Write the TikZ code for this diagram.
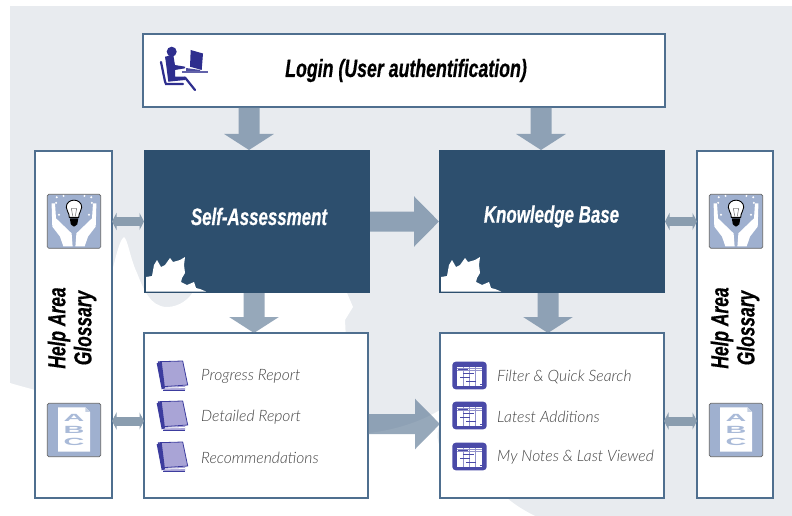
\documentclass[tikz,border=0pt]{standalone}
\usepackage{fontspec}
\setmainfont{Liberation Sans}
\newfontfamily\headfont[FakeStretch=0.71,FakeBold=0.5]{Liberation Sans}
\newfontfamily\listfont{Lato Light}
\usetikzlibrary{arrows.meta}
\definecolor{bggray}{HTML}{E8EBEF}
\definecolor{edgeblue}{HTML}{4F6F8F}
\definecolor{darkbox}{HTML}{2D4F6E}
\definecolor{arrowcol}{HTML}{5F7A96}
\definecolor{dblarrow}{HTML}{8A9DAF}
\definecolor{iconbg}{HTML}{9FB0CF}
\definecolor{abcletter}{HTML}{A9BAD8}
\definecolor{navy}{HTML}{2E2E8E}
\definecolor{bookfill}{HTML}{A9A4D6}
\definecolor{bookedge}{HTML}{3C3C9E}
\definecolor{ganttbg}{HTML}{4A4AA8}
\definecolor{listgray}{HTML}{444444}
\tikzset{
  whitebox/.style={draw=edgeblue,fill=white,line width=1.2pt,inner sep=0pt,outer sep=0pt},
  darkpanel/.style={fill=darkbox,inner sep=0pt,outer sep=0pt},
  headtext/.style={font=\headfont\bfseries\itshape\fontsize{25}{28}\selectfont,inner sep=0pt},
  panelhead/.style={font=\headfont\bfseries\itshape\fontsize{23.8}{28}\selectfont,inner sep=0pt,text=white},
  sidetext/.style={font=\headfont\bfseries\itshape\fontsize{24.5}{26}\selectfont,inner sep=0pt,align=center,rotate=90},
  listtext/.style={font=\listfont\itshape\fontsize{15.7}{18}\selectfont,text=listgray,inner sep=0pt,anchor=west},
  bigarrow/.style={draw=arrowcol,line width=#1},
  downhead/.style={-{Triangle[length=16pt,width=49pt,fill=arrowcol]}},
  righthead/.style={-{Triangle[length=25pt,width=49pt,fill=arrowcol]}},
  smallarrow/.style={draw=dblarrow,line width=9pt,{Triangle[length=4.5pt,width=17pt,fill=dblarrow]}-{Triangle[length=4.5pt,width=17pt,fill=dblarrow]}},
  leafpic/.pic={
    \fill[white] (146,291.5) -- (146,277) -- (152,276) -- (154,265) -- (157,260) -- (161,267) -- (165,265)
      -- (170,258) -- (173,262) -- (180,260) -- (185,257) -- (184,265) -- (185,273) -- (182,278) -- (181,282)
      -- (187,285) -- (194,282) -- (196,288) -- (200,289) -- (206,291.5) -- cycle;
  },
  bulbicon/.pic={
    \fill[draw=gray!80!black,fill=iconbg,rounded corners=1.5pt,line width=.7pt] (0,0) rectangle (53.4,54);
    \fill[white] (4.3,9) -- (7.7,9) -- (8.7,24) -- (24.3,39) -- (25.3,52) -- (16,52) -- (12.7,42.3) -- (5,32.3) -- cycle;
    \fill[white] (49.1,9) -- (45.7,9) -- (44.7,24) -- (29.1,39) -- (28.1,52) -- (37.4,52) -- (40.7,42.3) -- (48.4,32.3) -- cycle;
    \foreach \a/\r in {200/19,215/21,232/17,250/20,270/19,290/20,308/17,325/21,340/19,160/16,20/16}
      \fill[white] ({26.7+\r*cos(\a)},{15+\r*sin(\a)}) circle (1.1);
    \fill[white,draw=black,line width=.9pt] (22,23) .. controls (22,18) and (19,17) .. (19,13) .. controls (19,3.5) and (34.4,3.5) .. (34.4,13) .. controls (34.4,17) and (31.4,18) .. (31.4,23) -- cycle;
    \fill[black] (22.5,24) -- (31,24) -- (30,30) -- (27.5,32) -- (26,32) -- (23.5,30) -- cycle;
    \draw[gray,line width=.6pt] (24,14) -- (25.5,22) (29.4,14) -- (28,22) (24,14) -- (29.4,14);
  },
  abcicon/.pic={
    \fill[draw=gray!80!black,fill=iconbg,rounded corners=1.5pt,line width=.7pt] (0,0) rectangle (53.4,53.4);
    \fill[white] (10.7,4) -- (38,4) -- (42.7,8.5) -- (42.7,48.4) -- (10.7,48.4) -- cycle;
    \fill[iconbg!60] (38,4) -- (42.7,8.5) -- (38,8.5) -- cycle;
    \node[font=\bfseries\fontsize{8}{8}\selectfont,text=abcletter,inner sep=0pt] (-a) at (26.7,15) {\scalebox{3.6}[1.3]{A}};
    \node[font=\bfseries\fontsize{8}{8}\selectfont,text=abcletter,inner sep=0pt] (-b) at (26.7,27) {\scalebox{3.6}[1.3]{B}};
    \node[font=\bfseries\fontsize{8}{8}\selectfont,text=abcletter,inner sep=0pt] (-c) at (26.7,39) {\scalebox{3.6}[1.3]{C}};
  },
  bookicon/.pic={
    \fill[bookfill] (6.3,25.7) -- (28,25) -- (28,29) -- (6.3,29) -- cycle;
    \draw[bookedge,line width=.6pt] (6.3,29) -- (28,29);
    \draw[white,line width=.8pt] (7,27) -- (28,26.5);
    \fill[bookfill,draw=bookedge,line width=.8pt,line join=round] (1.3,.7) -- (25.7,0) -- (30.7,24) -- (5.7,25.7) -- cycle;
    \fill[bookedge] (-.3,2.3) -- (4.7,.7) -- (8,27.3) -- (4.7,28.3) -- cycle;
  },
  ganttpic/.pic={
    \fill[ganttbg,rounded corners=3.5pt] (0,0) rectangle (34.4,27.6);
    \fill[white] (4.4,3.3) rectangle (30,24);
    \fill[ganttbg] (4.4,3.3) rectangle (30,5);
    \draw[ganttbg!60,line width=.5pt] (4.4,7) -- (30,7) (4.4,9) -- (30,9) (11,5) -- (11,24) (17,5) -- (17,24) (23,5) -- (23,24);
    \draw[ganttbg,line width=1pt] (6,8) -- (16,8) (11,12) -- (22,12) (8,16) -- (18,16) (14,20) -- (24,20);
    \fill[ganttbg] (28,22) rectangle (29.5,23.5);
  },
  personpic/.pic={
    \fill[navy] (171.7,51.7) circle (5);
    \fill[navy] (165,56.7) -- (173.3,55) -- (175,65) -- (185,66.7) -- (185,68.3) -- (175,70) -- (175,76.7) -- (185,76.7) -- (185,80) -- (168.3,81.7) -- (166,63.3) -- cycle;
    \draw[navy,line width=2.2pt,line cap=round] (161,62) -- (165,81.5) -- (166,84) -- (183,84);
    \draw[navy,line width=2.2pt,line cap=round] (185,77.5) -- (195,90);
    \fill[navy] (190.7,50) -- (203,53.5) -- (201.7,70) -- (190,66.7) -- cycle;
    \fill[navy!75] (181.7,71) rectangle (208,73.5);
    \fill[navy!85] (186,68) -- (200,70) -- (200,71) -- (186,71) -- cycle;
  }
}
\begin{document}
\begin{tikzpicture}[x=1pt,y=-1pt]
\useasboundingbox (0,0) rectangle (792,516);
% background
\fill[bggray] (10,6) rectangle (792,516);
\fill[white] (0,383) -- (10,383) .. controls (20,386) and (28,388) .. (35,390) -- (100,320)
  .. controls (112,275) and (118,240) .. (124,237)
  .. controls (128,240) and (130,258) .. (137,273)
  .. controls (143,288) and (150,307) .. (167,307)
  .. controls (178,307) and (190,300) .. (195,288)
  -- (347,288) -- (347,293) -- (353,307) -- (345,320) -- (346,340) -- (369,433)
  .. controls (395,430) and (420,422) .. (440,410)
  -- (442,420) .. controls (436,430) and (436,440) .. (442,452)
  -- (507,498) .. controls (515,505) and (525,511) .. (535,516)
  -- (0,516) -- cycle;
% boxes
\node[whitebox,minimum width=522pt,minimum height=73pt] (login) at (404,70.5) {};
\node[darkpanel,minimum width=226pt,minimum height=143pt] (sa) at (257,221.5) {};
\node[darkpanel,minimum width=226pt,minimum height=143pt] (kb) at (552,221.5) {};
\node[whitebox,minimum width=77pt,minimum height=347pt] (helpL) at (73.5,324.5) {};
\node[whitebox,minimum width=76pt,minimum height=347pt] (helpR) at (735,324.5) {};
\node[whitebox,minimum width=224pt,minimum height=165pt] (rep) at (256,415.5) {};
\node[whitebox,minimum width=224pt,minimum height=165pt] (tools) at (552,415.5) {};
% leaves
\pic at (0,0) {leafpic};
\pic at (295,0) {leafpic};
% texts
\node[headtext] (tlogin) at (406,70.5) {Login (User authentification)};
\node[panelhead] (tsa) at (259,216.5) {Self-Assessment};
\node[panelhead] (tkb) at (551.5,216.5) {Knowledge Base};
\node[sidetext] (thelpL) at (72,328) {Help Area\\Glossary};
\node[sidetext] (thelpR) at (735,328) {Help Area\\Glossary};
\node[listtext] (r1) at (201,376.7) {Progress Report};
\node[listtext] (r2) at (201,416.7) {Detailed Report};
\node[listtext] (r3) at (201,457.5) {Recommendations};
\node[listtext] (t1) at (497,376.7) {Filter \& Quick Search};
\node[listtext] (t2) at (497,416.7) {Latest Additions};
\node[listtext] (t3) at (497,457.5) {My Notes \& Last Viewed};
% icons
\pic at (0,0) {personpic};
\pic at (47.3,194.3) {bulbicon};
\pic at (709.3,194.3) {bulbicon};
\pic (abcL) at (47.3,403.3) {abcicon};
\pic (abcR) at (709.3,403.3) {abcicon};
\pic at (157,361) {bookicon};
\pic at (157,401) {bookicon};
\pic at (157,442) {bookicon};
\pic at (452.3,361.7) {ganttpic};
\pic at (452.3,401.7) {ganttpic};
\pic at (452.3,442.7) {ganttpic};
% connectors
\coordinate (tipa) at ([xshift=-8pt]sa.north);
\coordinate (tipb) at ([xshift=-11pt]kb.north);
\coordinate (tipc) at ([xshift=-2pt]rep.north);
\coordinate (tipd) at ([xshift=-4pt]kb.south);
\coordinate (tipe) at ([xshift=-4pt]tools.north);
\begin{scope}[transparency group,opacity=.65]
\draw[bigarrow=21pt,downhead] (login.south -| tipa) -- (tipa);
\draw[bigarrow=21pt,downhead] (login.south -| tipb) -- (tipb);
\draw[bigarrow=20pt,righthead] (sa.east) -- (kb.west);
\draw[bigarrow=21pt,downhead] (sa.south -| tipc) -- (tipc);
\draw[bigarrow=21pt,downhead] (tipd) -- (tipe);
\draw[bigarrow=20pt,righthead] ([yshift=-8.5pt]rep.east) -- ([yshift=-8.5pt]tools.west);
\end{scope}
\draw[smallarrow] (helpL.east |- sa.center) -- (sa.west);
\draw[smallarrow] ([yshift=-5.5pt]helpL.east |- rep.center) -- ([yshift=-5.5pt]rep.west);
\draw[smallarrow] (kb.east) -- (helpR.west |- kb.center);
\draw[smallarrow] ([yshift=-5.5pt]tools.east) -- ([yshift=-5.5pt]helpR.west |- tools.center);
\end{tikzpicture}
\end{document}
